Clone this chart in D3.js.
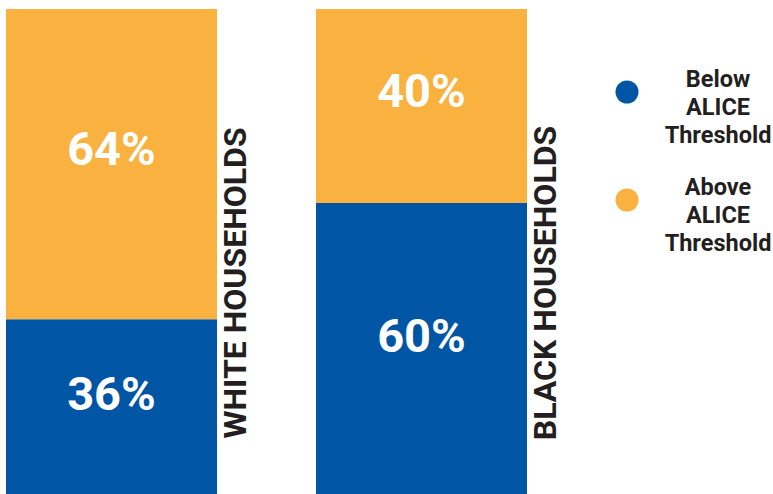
<!DOCTYPE html>
<html><head><meta charset="utf-8">
<script src="https://cdn.jsdelivr.net/npm/d3@7"></script>
<style>body{margin:0;background:#fff}svg{display:block}</style>
</head><body>
<svg id="c" width="773" height="494"></svg>
<script>
const categories = ["WHITE HOUSEHOLDS", "BLACK HOUSEHOLDS"];
const belowValues = [36, 60];
const aboveValues = [64, 40];
const seriesNames = ["Below ALICE Threshold", "Above ALICE Threshold"];
const legendLines = [["Below", "ALICE", "Threshold"], ["Above", "ALICE", "Threshold"]];

const colors = {below: "#0055A5", above: "#F9B13F"};
const svg = d3.select("#c");
const font = "Roboto, 'Liberation Sans', sans-serif";

const x = d3.scaleBand().domain(categories).range([6, 527]).paddingInner(0.3194).paddingOuter(0);
const bw = x.bandwidth();
const y = d3.scaleLinear().domain([0, 100]).range([9, 494]);

categories.forEach((c, i) => {
  const xl = x(c);
  const split = aboveValues[i];
  svg.append("rect").attr("x", xl).attr("y", y(0)).attr("width", bw)
    .attr("height", y(split) - y(0)).attr("fill", colors.above);
  svg.append("rect").attr("x", xl).attr("y", y(split)).attr("width", bw)
    .attr("height", y(100) - y(split)).attr("fill", colors.below);
  svg.append("text").attr("x", xl + bw / 2).attr("y", (y(0) + y(split)) / 2 - 16)
    .attr("text-anchor", "middle").attr("dominant-baseline", "central")
    .attr("fill", "#fff").attr("font-family", font).attr("font-weight", 700)
    .attr("font-size", 47).text(aboveValues[i] + "%");
  svg.append("text").attr("x", xl + bw / 2).attr("y", (y(split) + y(100)) / 2 - 13)
    .attr("text-anchor", "middle").attr("dominant-baseline", "central")
    .attr("fill", "#fff").attr("font-family", font).attr("font-weight", 700)
    .attr("font-size", 47).text(belowValues[i] + "%");
  svg.append("text")
    .attr("transform", `translate(${xl + bw + 18},283) rotate(-90)`)
    .attr("text-anchor", "middle").attr("dominant-baseline", "central")
    .attr("fill", "#231F20").attr("font-family", font).attr("font-weight", 700)
    .attr("font-size", 32).text(c);
});

const legY = [92, 200];
const legCol = [colors.below, colors.above];
seriesNames.forEach((s, i) => {
  svg.append("circle").attr("cx", 627).attr("cy", legY[i]).attr("r", 11.5).attr("fill", legCol[i]);
  legendLines[i].forEach((l, j) => {
    svg.append("text").attr("x", 718).attr("y", legY[i] - 13 + j * 28)
      .attr("text-anchor", "middle").attr("dominant-baseline", "central")
      .attr("fill", "#231F20").attr("font-family", font).attr("font-weight", 700)
      .attr("font-size", 23.5).text(l);
  });
});
</script>
</body></html>
